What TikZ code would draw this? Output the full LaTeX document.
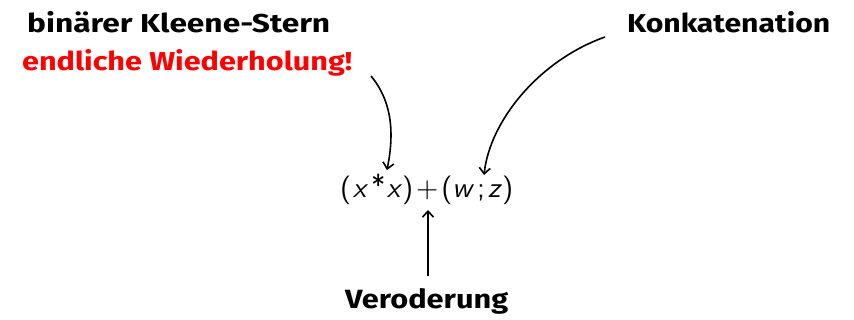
\documentclass[tikz,border=0pt]{standalone}
\usepackage{fontspec}
\setmainfont{Fira Sans}
\usetikzlibrary{arrows.meta}
\definecolor{lblred}{RGB}{255,0,0}
\tikzset{
  lbl/.style={inner sep=0pt, anchor=base west, font=\bfseries},
  conn/.style={draw=black, line width=1.6pt, -{Straight Barb[length=6pt,width=11pt,line width=1.6pt]}},
}
\begin{document}
\begin{tikzpicture}[x=1pt,y=-1pt]
\useasboundingbox (0,0) rectangle (854,320);
\node[lbl] (kleene) at (27,33) {\resizebox{303pt}{21pt}{binärer Kleene-Stern}};
\node[lbl, text=lblred] (endl) at (22,71) {\resizebox{330pt}{21pt}{endliche Wiederholung!}};
\node[lbl] (konk) at (627,33) {\resizebox{203pt}{21pt}{Konkatenation}};
\node[lbl] (veroder) at (345,309) {\resizebox{163pt}{20pt}{Veroderung}};
\node[lbl, font=\sffamily] (formula) at (340,198) {\resizebox{173pt}{!}{(\kern0.5pt\textit{x}\kern1pt\raisebox{1pt}{*}\kern0.5pt\textit{x})\kern1pt+\kern1pt(\textit{w}\kern1pt;\kern1pt\textit{z})}};
\coordinate (f1) at (387,170);
\coordinate (f2) at (484,175);
\coordinate (f3) at (428,210);
\coordinate (s1) at (371,76);
\coordinate (s2) at (605,37);
\coordinate (s3) at (428,276);
\draw[conn] (s1) .. controls (395,105) and (393,140) .. (f1);
\draw[conn] (s2) .. controls (540,60) and (490,120) .. (f2);
\draw[conn] (s3) -- (f3);
\end{tikzpicture}
\end{document}
